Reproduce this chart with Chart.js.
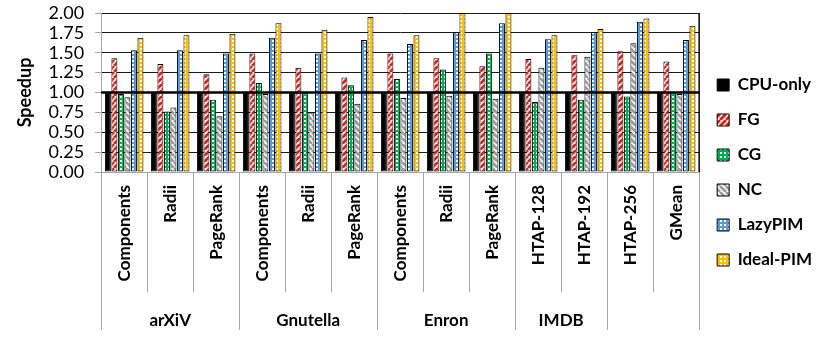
<!DOCTYPE html>
<html>
<head>
<meta charset="utf-8">
<script src="https://cdn.jsdelivr.net/npm/chart.js@4"></script>
<style>
  html, body { margin: 0; padding: 0; background: #fff; }
  #wrap { width: 830px; height: 338px; position: relative; }
</style>
</head>
<body>
<div id="wrap"><canvas id="chart-speedup"></canvas></div>
<script>
const categories = ['Components', 'Radii', 'PageRank', 'Components', 'Radii', 'PageRank',
    'Components', 'Radii', 'PageRank', 'HTAP-128', 'HTAP-192', 'HTAP-256', 'GMean'];
const groupLabels = ['arXiV', 'Gnutella', 'Enron', 'IMDB'];
const groupCenters = [1.5, 4.5, 7.5, 10];
const groupEdges = [0, 3, 6, 9, 11, 13];
const yTicks = [0, 0.25, 0.5, 0.75, 1, 1.25, 1.5, 1.75, 2];

const cpuOnly = [1, 1, 1, 1, 1, 1, 1, 1, 1, 1, 1, 1, 1];
const fg = [1.43, 1.36, 1.23, 1.49, 1.31, 1.19, 1.49, 1.43, 1.33, 1.42, 1.47, 1.52, 1.39];
const cg = [0.98, 0.76, 0.91, 1.12, 0.99, 1.09, 1.17, 1.29, 1.49, 0.88, 0.91, 0.95, 1.00];
const nc = [0.94, 0.81, 0.70, 0.98, 0.75, 0.86, 0.93, 0.96, 0.92, 1.31, 1.45, 1.62, 0.98];
const lazyPim = [1.53, 1.53, 1.49, 1.69, 1.49, 1.66, 1.61, 1.76, 1.87, 1.67, 1.76, 1.89, 1.66];
const idealPim = [1.69, 1.72, 1.74, 1.87, 1.79, 1.95, 1.72, 2.0, 2.0, 1.72, 1.80, 1.93, 1.84];

const FONT = 'Lato, "Open Sans", sans-serif';
const axisGray = '#a6a6a6';

// small repeating tiles for the excel-like fills
function tile(size, draw) {
    const c = document.createElement('canvas');
    c.width = size;
    c.height = size;
    const g = c.getContext('2d');
    draw(g, size);
    return g.createPattern(c, 'repeat');
}

function stripes(color, dir) {
    return tile(6, (g, s) => {
        g.fillStyle = '#fff';
        g.fillRect(0, 0, s, s);
        g.strokeStyle = color;
        g.lineWidth = 2.8;
        g.beginPath();
        for (let k = -1; k <= 1; k++) {
            if (dir > 0) {
                g.moveTo(k * s, s);
                g.lineTo(k * s + s, 0);
            } else {
                g.moveTo(k * s, 0);
                g.lineTo(k * s + s, s);
            }
        }
        g.stroke();
    });
}

function dots(color) {
    return tile(4, (g, s) => {
        g.fillStyle = color;
        g.fillRect(0, 0, s, s);
        g.fillStyle = '#fff';
        g.fillRect(0, 0, 2, 2);
    });
}

const fills = {
    cpu: '#000',
    fg: stripes('#e0211a', 1),
    cg: dots('#00b050'),
    nc: stripes('#9c9c9c', -1),
    lazy: dots('#5b9bd5'),
    ideal: dots('#ffc000'),
};

function series(label, data, fill) {
    return {
        label,
        data,
        backgroundColor: fill,
        borderColor: '#000',
        borderWidth: 1,
        borderSkipped: false,
        categoryPercentage: 0.85,
        barPercentage: 0.92,
    };
}

// thick 1.0 baseline over the bars, and the right frame edge
const frame = {
    id: 'frame',
    afterDatasetsDraw(chart) {
        const { ctx, chartArea, scales } = chart;
        const y1 = scales.y.getPixelForValue(1);
        ctx.save();
        ctx.strokeStyle = '#000';
        ctx.lineWidth = 2.5;
        ctx.beginPath();
        ctx.moveTo(chartArea.left, y1);
        ctx.lineTo(chartArea.right, y1);
        ctx.stroke();
        ctx.lineWidth = 1.5;
        ctx.beginPath();
        ctx.moveTo(chartArea.right, chartArea.top);
        ctx.lineTo(chartArea.right, chartArea.bottom);
        ctx.stroke();
        ctx.restore();
    },
};

new Chart(document.getElementById('chart-speedup'), {
    type: 'bar',
    data: {
        labels: categories,
        datasets: [
            series('CPU-only', cpuOnly, fills.cpu),
            series('FG', fg, fills.fg),
            series('CG', cg, fills.cg),
            series('NC', nc, fills.nc),
            series('LazyPIM', lazyPim, fills.lazy),
            series('Ideal-PIM', idealPim, fills.ideal),
        ],
    },
    options: {
        responsive: true,
        maintainAspectRatio: false,
        animation: false,
        layout: { padding: { left: 8, top: 13, right: 8, bottom: 6 } },
        plugins: {
            legend: {
                position: 'right',
                align: 'center',
                labels: {
                    boxWidth: 12,
                    boxHeight: 12,
                    padding: 18,
                    color: '#000',
                    font: { family: FONT, size: 17, weight: 'bold' },
                },
            },
            tooltip: { enabled: false },
        },
        scales: {
            x: {
                type: 'category',
                position: 'bottom',
                weight: 0,
                afterFit: (axis) => { axis.height = 118; },
                border: { color: axisGray },
                grid: {
                    drawOnChartArea: false,
                    offset: true,
                    tickLength: 120,
                    tickColor: axisGray,
                },
                ticks: {
                    autoSkip: false,
                    minRotation: 90,
                    maxRotation: 90,
                    padding: -107,
                    color: '#000',
                    font: { family: FONT, size: 17, weight: 'bold' },
                },
            },
            x2: {
                type: 'linear',
                position: 'bottom',
                weight: 1,
                min: 0,
                max: 13,
                offset: false,
                afterBuildTicks: (axis) => {
                    axis.ticks = groupEdges.concat(groupCenters).sort((a, b) => a - b).map((v) => ({ value: v }));
                },
                afterFit: (axis) => { axis.height = 42; },
                border: { display: false },
                grid: {
                    drawOnChartArea: false,
                    offset: false,
                    tickLength: 40,
                    tickColor: (ctx) => (ctx.tick && groupEdges.includes(ctx.tick.value) ? axisGray : 'rgba(0,0,0,0)'),
                },
                ticks: {
                    autoSkip: false,
                    maxRotation: 0,
                    padding: -20,
                    color: '#000',
                    font: { family: FONT, size: 17, weight: 'bold' },
                    callback: (v) => {
                        const i = groupCenters.indexOf(v);
                        return i >= 0 ? groupLabels[i] : '';
                    },
                },
            },
            y: {
                min: 0,
                max: 2,
                afterBuildTicks: (axis) => {
                    axis.ticks = yTicks.map((v) => ({ value: v }));
                },
                afterFit: (axis) => {
                    // labels overhang is covered by layout padding
                    axis.paddingTop = 0;
                    axis.paddingBottom = 0;
                },
                border: { color: axisGray },
                grid: {
                    color: '#1a1a1a',
                    lineWidth: 1,
                    tickLength: 6,
                    tickColor: axisGray,
                },
                ticks: {
                    autoSkip: false,
                    padding: 11,
                    color: '#000',
                    font: { family: FONT, size: 18 },
                    callback: (v) => Number(v).toFixed(2),
                },
                title: {
                    display: true,
                    text: 'Speedup',
                    color: '#000',
                    padding: { top: 6, bottom: 2 },
                    font: { family: FONT, size: 18, weight: 'bold' },
                },
            },
        },
    },
    plugins: [frame],
});
</script>
</body>
</html>
